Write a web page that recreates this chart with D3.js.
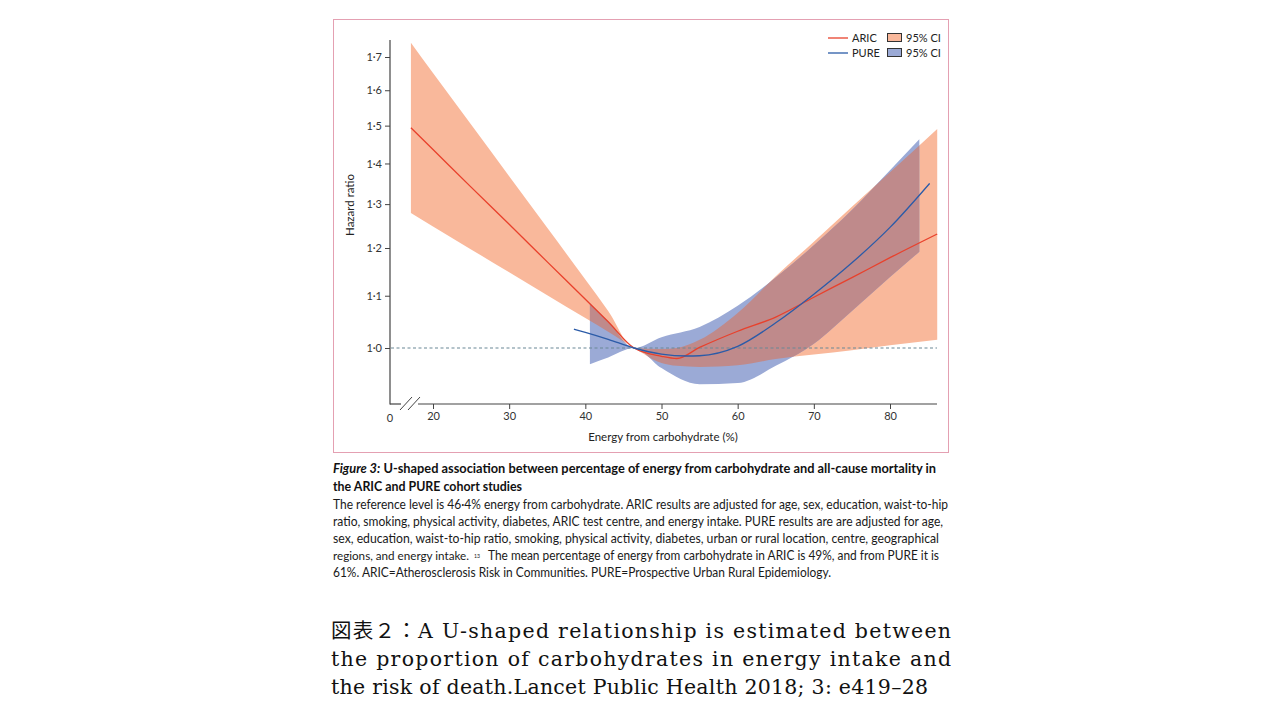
<!DOCTYPE html>
<html lang="en">
<head>
<meta charset="UTF-8" />
<title>Carbohydrate and mortality</title>
<script src="https://d3js.org/d3.v7.min.js"></script>
<style>
  body { margin: 0; background: #fff; }
  svg { display: block; }
  .tick text { font-family: Lato, "Open Sans", sans-serif; font-size: 11px; fill: #333; }
  .tick line { stroke: #444; }
</style>
</head>
<body>
<svg id="chart" width="1280" height="720"></svg>
<script>
// ARIC curve and 95% CI (energy from carbohydrate %, hazard ratio)
const aricX     = [17.1, 20, 25, 30, 35, 40, 43, 46.4, 50, 52, 55, 60, 65, 70, 75, 80, 86.2];
const aricHR    = [1.494, 1.436, 1.341, 1.253, 1.170, 1.093, 1.049, 1.0, 0.985, 0.981, 1.001, 1.031, 1.058, 1.097, 1.137, 1.179, 1.231];
const aricUpper = [1.745, 1.651, 1.503, 1.368, 1.245, 1.133, 1.070, 1.0, 0.998, 1.000, 1.015, 1.066, 1.140, 1.214, 1.294, 1.378, 1.491];
const aricLower = [1.279, 1.248, 1.197, 1.148, 1.101, 1.056, 1.030, 1.0, 0.973, 0.968, 0.966, 0.969, 0.980, 0.988, 0.996, 1.005, 1.015];

// PURE curve
const pureX  = [38.5, 40, 43, 46.4, 50, 53.3, 55, 60, 65, 70, 75, 80, 85.2];
const pureHR = [1.035, 1.029, 1.016, 1.0, 0.989, 0.9855, 0.986, 1.003, 1.047, 1.103, 1.168, 1.246, 1.350];
// PURE 95% CI
const pureCiX    = [40.6, 43, 46.4, 50, 55, 60, 65, 70, 75, 80, 83.85];
const pureUpper  = [1.085, 1.050, 1.0, 1.020, 1.039, 1.080, 1.137, 1.206, 1.286, 1.383, 1.463];
const pureLower  = [0.971, 0.983, 1.0, 0.964, 0.936, 0.938, 0.968, 1.008, 1.070, 1.138, 1.192];

const xTicks = [20, 30, 40, 50, 60, 70, 80];
const yTicks = [1.0, 1.1, 1.2, 1.3, 1.4, 1.5, 1.6, 1.7];
const legendNames = ["ARIC", "PURE"];

const captionLines = [
  ["Figure 3:", " U-shaped association between percentage of energy from carbohydrate and all-cause mortality in"],
  ["", "the ARIC and PURE cohort studies"]
];
// each body line may be split into pieces: [text, start x, end x, font size, raise]
const bodyLines = [
  [["The reference level is 46·4% energy from carbohydrate. ARIC results are adjusted for age, sex, education, waist-to-hip", 333, 948]],
  [["ratio, smoking, physical activity, diabetes, ARIC test centre, and energy intake. PURE results are are adjusted for age,", 333, 943]],
  [["sex, education, waist-to-hip ratio, smoking, physical activity, diabetes, urban or rural location, centre, geographical", 333, 939]],
  [["regions, and energy intake.", 333, 469, 11.3], ["13", 474, 480, 6, 2.5],
   ["The mean percentage of energy from carbohydrate in ARIC is 49%, and from PURE it is", 488, 939]],
  [["61%. ARIC=Atherosclerosis Risk in Communities. PURE=Prospective Urban Rural Epidemiology.", 333, 831]]
];
const noteLines = [
  "図表２：A U-shaped relationship is estimated between",
  "the proportion of carbohydrates in energy intake and",
  "the risk of death.Lancet Public Health 2018; 3: e419–28"
];

const svg = d3.select("#chart");
const x = d3.scaleLinear().domain([20, 80]).range([433, 890]);
const y = d3.scaleLog().domain([1.0, 1.7]).range([348, 57]);

const orange = "#f9b89b", blue = "#9baad6", brown = "#bf8a8b";
const redLine = "#e8412c", blueLine = "#2b5ba8";

// frame
svg.append("rect").attr("x", 333.5).attr("y", 19.5).attr("width", 615).attr("height", 433)
  .attr("fill", "none").attr("stroke", "#e4a0b2").attr("stroke-width", 1);

const aric = aricX.map((v, i) => ({x: v, y: aricHR[i], lo: aricLower[i], hi: aricUpper[i]}));
const pure = pureX.map((v, i) => ({x: v, y: pureHR[i]}));
const pureCi = pureCiX.map((v, i) => ({x: v, lo: pureLower[i], hi: pureUpper[i]}));

const area = d3.area().x(d => x(d.x)).y0(d => y(d.lo)).y1(d => y(d.hi)).curve(d3.curveMonotoneX);
const line = d3.line().x(d => x(d.x)).y(d => y(d.y)).curve(d3.curveMonotoneX);

svg.append("defs").append("clipPath").attr("id", "aricClip")
  .append("path").attr("d", area(aric));

svg.append("path").attr("d", area(aric)).attr("fill", orange);
svg.append("path").attr("d", area(pureCi)).attr("fill", blue);
svg.append("path").attr("d", area(pureCi)).attr("fill", brown).attr("clip-path", "url(#aricClip)");

// reference line at HR 1
svg.append("line").attr("x1", 391).attr("x2", 937).attr("y1", y(1)).attr("y2", y(1))
  .attr("stroke", "#6a8796").attr("stroke-width", 1.2).attr("stroke-dasharray", "3,2.5");

svg.append("path").attr("d", line(aric)).attr("fill", "none").attr("stroke", redLine).attr("stroke-width", 1.3);
svg.append("path").attr("d", line(pure)).attr("fill", "none").attr("stroke", blueLine).attr("stroke-width", 1.3);

// axes
const yAxis = svg.append("g").attr("transform", "translate(390,0)")
  .call(d3.axisLeft(y).tickValues(yTicks).tickSize(5).tickPadding(3)
    .tickFormat(d => d.toFixed(1).replace(".", "·")));
yAxis.select(".domain").remove();
svg.append("line").attr("x1", 390).attr("x2", 390).attr("y1", 40).attr("y2", 404.5)
  .attr("stroke", "#444").attr("stroke-width", 1.2);

const xAxis = svg.append("g").attr("transform", "translate(0,404)")
  .call(d3.axisBottom(x).tickValues(xTicks).tickSize(5).tickPadding(3));
xAxis.select(".domain").remove();
svg.append("line").attr("x1", 390).attr("x2", 401).attr("y1", 404).attr("y2", 404).attr("stroke", "#444").attr("stroke-width", 1.2);
svg.append("line").attr("x1", 418).attr("x2", 937).attr("y1", 404).attr("y2", 404).attr("stroke", "#444").attr("stroke-width", 1.2);
svg.append("line").attr("x1", 400).attr("x2", 412).attr("y1", 410).attr("y2", 397).attr("stroke", "#444");
svg.append("line").attr("x1", 408).attr("x2", 420).attr("y1", 410).attr("y2", 397).attr("stroke", "#444");
svg.append("text").attr("x", 390).attr("y", 422).attr("text-anchor", "middle")
  .attr("font-family", "Lato, sans-serif").attr("font-size", 11).attr("fill", "#333").text("0");

svg.append("text").attr("x", 663).attr("y", 441).attr("text-anchor", "middle")
  .attr("font-family", "Lato, sans-serif").attr("font-size", 11.5).attr("fill", "#222")
  .text("Energy from carbohydrate (%)");
svg.append("text").attr("transform", "translate(354,205) rotate(-90)").attr("text-anchor", "middle")
  .attr("font-family", "Lato, sans-serif").attr("font-size", 11.5).attr("fill", "#222")
  .text("Hazard ratio");

// legend
const leg = svg.append("g").attr("font-family", "Lato, sans-serif").attr("font-size", 11).attr("fill", "#222");
legendNames.forEach((name, i) => {
  const ly = 38 + i * 15;
  leg.append("line").attr("x1", 828).attr("x2", 848).attr("y1", ly).attr("y2", ly)
    .attr("stroke", i ? blueLine : redLine).attr("stroke-width", 1.3);
  leg.append("text").attr("x", 852).attr("y", ly + 4).text(name);
  leg.append("rect").attr("x", 887.5).attr("y", ly - 4.5).attr("width", 14).attr("height", 8)
    .attr("fill", i ? blue : orange).attr("stroke", "#333").attr("stroke-width", 1);
  leg.append("text").attr("x", 906).attr("y", ly + 4).text("95% CI");
});

// caption
const capEnds = [936, 522];
captionLines.forEach((parts, i) => {
  const t = svg.append("text").attr("x", 333).attr("y", 473 + i * 18)
    .attr("font-family", "Lato, sans-serif").attr("font-size", 12.5).attr("font-weight", "bold").attr("fill", "#111")
    .attr("textLength", capEnds[i] - 333).attr("lengthAdjust", "spacingAndGlyphs");
  if (parts[0]) t.append("tspan").attr("font-style", "italic").text(parts[0]);
  t.append("tspan").text(parts[1]);
});

bodyLines.forEach((pieces, i) => {
  pieces.forEach(([s, x0, x1, fs, raise]) => {
    svg.append("text").attr("x", x0).attr("y", 509 + i * 17 - (raise || 0))
      .attr("font-family", "Lato, sans-serif").attr("font-size", fs || 12.5).attr("fill", "#1a1a1a")
      .attr("textLength", x1 - x0).attr("lengthAdjust", "spacingAndGlyphs")
      .text(s);
  });
});

// note below
const noteEnds = [951, 951, 928];
noteLines.forEach((s, i) => {
  svg.append("text").attr("x", 331).attr("y", 638 + i * 28)
    .attr("font-family", "'DejaVu Serif', 'Noto Sans CJK JP', serif").attr("font-size", 20.5).attr("fill", "#111")
    .attr("textLength", noteEnds[i] - 331).attr("lengthAdjust", "spacing")
    .text(s);
});
</script>
</body>
</html>
